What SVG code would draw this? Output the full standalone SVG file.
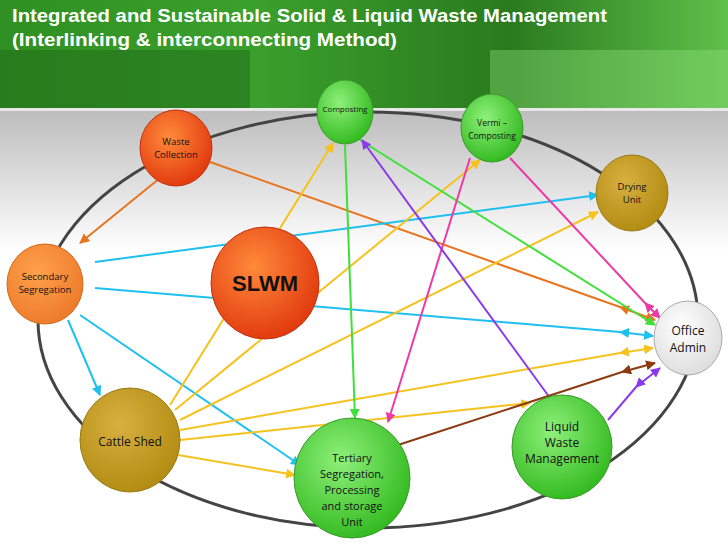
<svg xmlns="http://www.w3.org/2000/svg" width="728" height="546" viewBox="0 0 728 546">
<defs>
<linearGradient id="ban" x1="0" y1="0" x2="1" y2="0"><stop offset="0" stop-color="#2f8f22"/><stop offset="0.35" stop-color="#3aa02c"/><stop offset="0.7" stop-color="#2a7a1e"/><stop offset="1" stop-color="#5fc04a"/></linearGradient>
<linearGradient id="fade" x1="0" y1="0" x2="0" y2="1"><stop offset="0" stop-color="#bdbdbd"/><stop offset="1" stop-color="#ffffff"/></linearGradient>
<radialGradient id="gO" cx="0.4" cy="0.35" r="0.7"><stop offset="0" stop-color="#ff8a3a"/><stop offset="1" stop-color="#e0360c"/></radialGradient>
<radialGradient id="gG" cx="0.4" cy="0.35" r="0.7"><stop offset="0" stop-color="#8ef07a"/><stop offset="1" stop-color="#2fb81c"/></radialGradient>
<radialGradient id="gY" cx="0.4" cy="0.35" r="0.7"><stop offset="0" stop-color="#d8b040"/><stop offset="1" stop-color="#b08a10"/></radialGradient>
<radialGradient id="gS" cx="0.4" cy="0.35" r="0.7"><stop offset="0" stop-color="#ffa04a"/><stop offset="1" stop-color="#ec7a2a"/></radialGradient>
<radialGradient id="gW" cx="0.4" cy="0.35" r="0.7"><stop offset="0" stop-color="#ffffff"/><stop offset="1" stop-color="#dcdcdc"/></radialGradient>
<marker id="a" viewBox="0 0 10 10" refX="9" refY="5" markerWidth="5" markerHeight="5" orient="auto"><path d="M0,0 L10,5 L0,10 z" fill="context-stroke"/></marker>
<marker id="r" viewBox="0 0 10 10" refX="1" refY="5" markerWidth="5" markerHeight="5" orient="auto"><path d="M10,0 L0,5 L10,10 z" fill="context-stroke"/></marker>
</defs>
<style>
.t{font-family:"Liberation Sans",Arial,sans-serif;font-weight:bold;fill:#fff;font-size:18px}
.n{font-family:"Open Sans","Liberation Sans",sans-serif;fill:#111;text-anchor:middle}
.c path{fill:none;stroke-width:2;marker-end:url(#a)}
.c .d{marker-mid:url(#r)}
</style>
<rect width="728" height="546" fill="#fff"/>
<rect width="728" height="108" fill="url(#ban)"/>
<rect y="50" width="250" height="58" fill="#1f6a18" opacity="0.5"/>
<rect x="490" y="50" width="238" height="58" fill="#8fe07a" opacity="0.4"/>
<rect y="108" width="728" height="3" fill="#e8e8e8"/>
<rect y="111" width="728" height="140" fill="url(#fade)"/>
<text class="t" x="12" y="22" textLength="595" lengthAdjust="spacingAndGlyphs">Integrated and Sustainable Solid &amp; Liquid Waste Management</text>
<text class="t" x="12" y="46" textLength="385" lengthAdjust="spacingAndGlyphs">(Interlinking &amp; interconnecting  Method)</text>
<ellipse cx="368" cy="320" rx="330" ry="208" fill="none" stroke="#444" stroke-width="3"/>
<g class="c">
<path d="M160,178 L80,243" stroke="#e8741e"/>
<path class="d" d="M210,162 L620,307 L655,320" stroke="#e8741e"/>
<path d="M95,262 L598,195" stroke="#1ec0f0"/>
<path class="d" d="M95,288 L620,332 L653,336" stroke="#1ec0f0"/>
<path d="M68,320 L100,395" stroke="#1ec0f0"/>
<path d="M80,315 L300,465" stroke="#1ec0f0"/>
<path d="M170,405 L333,143" stroke="#f5c21e"/>
<path d="M175,410 L480,160" stroke="#f5c21e"/>
<path d="M180,420 L598,212" stroke="#f5c21e"/>
<path class="d" d="M180,430 L620,353 L653,348" stroke="#f5c21e"/>
<path d="M180,440 L530,403" stroke="#f5c21e"/>
<path d="M178,455 L295,475" stroke="#f5c21e"/>
<path d="M345,145 L355,418" stroke="#3ee03a"/>
<path d="M360,140 L655,325" stroke="#3ee03a"/>
<path d="M470,158 L388,422" stroke="#ec3aa8"/>
<path class="d" d="M510,158 L645,303 L660,318" stroke="#ec3aa8"/>
<path d="M550,398 L362,140" stroke="#8a3ae8"/>
<path class="d" d="M608,420 L636,387 L660,368" stroke="#8a3ae8"/>
<path class="d" d="M398,445 L622,372 L655,363" stroke="#8a3a0e"/>
</g>
<g id="composting"><ellipse cx="345" cy="112" rx="28" ry="32" fill="url(#gG)" stroke="#3a9a2a"/><text class="n" x="345" y="112" style="font-size:8px">Composting</text></g>
<g id="vermi"><ellipse cx="492" cy="128" rx="31" ry="34" fill="url(#gG)" stroke="#3a9a2a"/><text class="n" x="492" y="126" style="font-size:8.5px">Vermi –</text><text class="n" x="492" y="139" style="font-size:8.5px">Composting</text></g>
<g id="waste"><ellipse cx="176" cy="148" rx="36" ry="38" fill="url(#gO)" stroke="#c03010"/><text class="n" x="176" y="145" style="font-size:9.5px">Waste</text><text class="n" x="176" y="158" style="font-size:9.5px">Collection</text></g>
<g id="drying"><ellipse cx="632" cy="193" rx="36" ry="38" fill="url(#gY)" stroke="#9a7a10"/><text class="n" x="632" y="190" style="font-size:9.5px">Drying</text><text class="n" x="632" y="203" style="font-size:9.5px">Unit</text></g>
<g id="secondary"><ellipse cx="45" cy="284" rx="38" ry="40" fill="url(#gS)" stroke="#d06a1a"/><text class="n" x="45" y="280" style="font-size:9.5px">Secondary</text><text class="n" x="45" y="293" style="font-size:9.5px">Segregation</text></g>
<g id="slwm"><ellipse cx="265" cy="283" rx="54" ry="56" fill="url(#gO)" stroke="#c03010"/><text x="265" y="291" text-anchor="middle" font-family="Liberation Sans,Arial,sans-serif" font-weight="bold" font-size="22" fill="#111">SLWM</text></g>
<g id="office"><ellipse cx="688" cy="338" rx="34" ry="37" fill="url(#gW)" stroke="#aaa"/><text class="n" x="688" y="335" style="font-size:12px">Office</text><text class="n" x="688" y="352" style="font-size:12px">Admin</text></g>
<g id="cattle"><ellipse cx="130" cy="440" rx="50" ry="52" fill="url(#gY)" stroke="#9a7a10"/><text class="n" x="130" y="446" style="font-size:12px">Cattle Shed</text></g>
<g id="tertiary"><ellipse cx="352" cy="478" rx="58" ry="60" fill="url(#gG)" stroke="#3a9a2a"/><text class="n" x="352" y="462" style="font-size:11px">Tertiary</text><text class="n" x="352" y="478" style="font-size:11px">Segregation,</text><text class="n" x="352" y="494" style="font-size:11px">Processing</text><text class="n" x="352" y="510" style="font-size:11px">and storage</text><text class="n" x="352" y="526" style="font-size:11px">Unit</text></g>
<g id="liquid"><ellipse cx="562" cy="447" rx="50" ry="52" fill="url(#gG)" stroke="#3a9a2a"/><text class="n" x="562" y="431" style="font-size:12px">Liquid</text><text class="n" x="562" y="447" style="font-size:12px">Waste</text><text class="n" x="562" y="463" style="font-size:12px">Management</text></g>
</svg>
